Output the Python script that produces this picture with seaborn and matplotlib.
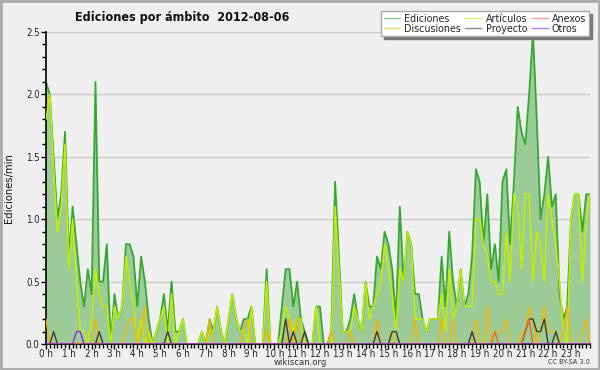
import numpy as np
import pandas as pd
import matplotlib
matplotlib.use("Agg")
import matplotlib.pyplot as plt
import seaborn as sns
from matplotlib.ticker import MultipleLocator, FixedLocator
from matplotlib.patches import Rectangle
from matplotlib.lines import Line2D

sns.set_theme(style="white")
plt.rcParams['font.family'] = ['DejaVu Sans']
plt.rcParams['font.stretch'] = 'condensed'

# ---- data (10-minute bins, edits per minute) ----
ediciones = [
    2.1, 2.0, 1.5, 1.0, 1.2, 1.7, 0.7, 1.1, 0.8, 0.5, 0.3, 0.6, 0.4, 2.1, 0.5, 0.5, 0.8, 0.0, 0.4, 0.2,
    0.3, 0.8, 0.8, 0.7, 0.3, 0.7, 0.5, 0.2, 0.0, 0.1, 0.2, 0.4, 0.1, 0.5, 0.1, 0.1, 0.2, 0.0, 0.0, 0.0,
    0.0, 0.1, 0.0, 0.2, 0.1, 0.3, 0.1, 0.0, 0.2, 0.4, 0.2, 0.1, 0.2, 0.2, 0.3, 0.0, 0.0, 0.0, 0.6, 0.0,
    0.0, 0.0, 0.3, 0.6, 0.6, 0.3, 0.5, 0.2, 0.1, 0.0, 0.0, 0.3, 0.3, 0.0, 0.0, 0.1, 1.3, 0.7, 0.1, 0.1,
    0.2, 0.4, 0.2, 0.1, 0.5, 0.3, 0.3, 0.7, 0.6, 0.9, 0.8, 0.6, 0.2, 1.1, 0.5, 0.9, 0.8, 0.4, 0.4, 0.2,
    0.1, 0.2, 0.2, 0.2, 0.7, 0.3, 0.9, 0.5, 0.3, 0.6, 0.3, 0.4, 0.7, 1.4, 1.3, 0.8, 1.2, 0.6, 0.8, 0.5,
    1.3, 1.4, 0.8, 1.3, 1.9, 1.7, 1.6, 2.0, 2.5, 1.8, 1.0, 1.2, 1.5, 1.1, 1.2, 0.4, 0.2, 0.3, 1.0, 1.2,
    1.2, 0.9, 1.2, 1.2,
]
articulos = [
    1.8, 2.0, 1.4, 0.9, 1.1, 1.6, 0.6, 1.0, 0.5, 0.1, 0.1, 0.0, 0.2, 0.6, 0.4, 0.3, 0.3, 0.0, 0.3, 0.2,
    0.3, 0.7, 0.5, 0.3, 0.0, 0.2, 0.0, 0.1, 0.0, 0.1, 0.2, 0.3, 0.0, 0.4, 0.0, 0.1, 0.2, 0.0, 0.0, 0.0,
    0.0, 0.1, 0.0, 0.1, 0.1, 0.3, 0.1, 0.0, 0.2, 0.4, 0.2, 0.1, 0.1, 0.0, 0.3, 0.0, 0.0, 0.0, 0.5, 0.0,
    0.0, 0.0, 0.1, 0.3, 0.2, 0.1, 0.2, 0.2, 0.0, 0.0, 0.0, 0.3, 0.0, 0.0, 0.0, 0.0, 1.1, 0.6, 0.1, 0.1,
    0.1, 0.3, 0.2, 0.1, 0.5, 0.2, 0.3, 0.4, 0.5, 0.8, 0.6, 0.4, 0.1, 0.6, 0.5, 0.9, 0.8, 0.2, 0.2, 0.2,
    0.1, 0.2, 0.2, 0.2, 0.4, 0.1, 0.6, 0.2, 0.3, 0.6, 0.3, 0.3, 0.3, 1.0, 1.0, 0.8, 0.7, 0.5, 0.5, 0.4,
    0.4, 0.9, 0.5, 1.2, 1.1, 0.6, 1.2, 1.2, 0.5, 0.9, 0.8, 0.5, 1.2, 1.0, 0.8, 0.5, 0.1, 0.0, 1.0, 1.2,
    1.2, 0.5, 1.0, 1.2,
]
discusiones = [
    0.2, 0.0, 0.0, 0.0, 0.0, 0.0, 0.0, 0.0, 0.0, 0.0, 0.0, 0.0, 0.0, 0.2, 0.0, 0.0, 0.0, 0.0, 0.0, 0.0,
    0.0, 0.1, 0.2, 0.2, 0.0, 0.1, 0.3, 0.0, 0.0, 0.0, 0.0, 0.0, 0.0, 0.0, 0.0, 0.0, 0.0, 0.0, 0.0, 0.0,
    0.0, 0.0, 0.0, 0.2, 0.0, 0.0, 0.0, 0.0, 0.0, 0.0, 0.0, 0.0, 0.1, 0.2, 0.0, 0.0, 0.0, 0.0, 0.1, 0.0,
    0.0, 0.0, 0.0, 0.0, 0.2, 0.0, 0.2, 0.0, 0.0, 0.0, 0.0, 0.0, 0.0, 0.0, 0.0, 0.1, 0.0, 0.0, 0.0, 0.0,
    0.1, 0.0, 0.0, 0.0, 0.0, 0.0, 0.0, 0.2, 0.0, 0.0, 0.0, 0.1, 0.0, 0.0, 0.0, 0.0, 0.0, 0.2, 0.0, 0.0,
    0.0, 0.0, 0.0, 0.0, 0.2, 0.0, 0.0, 0.2, 0.0, 0.0, 0.0, 0.0, 0.0, 0.2, 0.0, 0.0, 0.3, 0.0, 0.1, 0.1,
    0.1, 0.2, 0.0, 0.0, 0.0, 0.1, 0.1, 0.3, 0.2, 0.0, 0.1, 0.3, 0.1, 0.1, 0.1, 0.0, 0.1, 0.3, 0.0, 0.0,
    0.0, 0.1, 0.2, 0.0,
]
proyecto = [0.0] * 144
for _i, _v in {2: 0.1, 14: 0.1, 32: 0.1, 63: 0.2, 65: 0.1, 68: 0.1, 87: 0.1, 91: 0.1, 92: 0.1,
               112: 0.1, 126: 0.1, 127: 0.2, 128: 0.2, 129: 0.1, 130: 0.1, 131: 0.2, 134: 0.1}.items():
    proyecto[_i] = _v
anexos = [0.0] * 144
for _i, _v in {118: 0.1, 126: 0.1, 127: 0.2}.items():
    anexos[_i] = _v
otros = [0.0] * 144
for _i, _v in {8: 0.1, 9: 0.1}.items():
    otros[_i] = _v

hour_labels = [f"{h} h" for h in range(24)]
series_names = ["Ediciones", "Artículos", "Discusiones", "Proyecto", "Anexos", "Otros"]
series_colors = {"Ediciones": "#36a832", "Artículos": "#c2ee00", "Discusiones": "#f2b800",
                 "Proyecto": "#3a3a3a", "Anexos": "#f26522", "Otros": "#8a2be2"}

hora = np.arange(len(ediciones)) / 6.0
df = pd.DataFrame({"hora": hora, "Ediciones": ediciones, "Artículos": articulos,
                   "Discusiones": discusiones, "Proyecto": proyecto, "Anexos": anexos, "Otros": otros})
long = df.melt(id_vars="hora", var_name="serie", value_name="valor")

bg = "#efeff0"
fig = plt.figure(figsize=(6, 3.7), dpi=100, facecolor=bg)
ax = fig.add_axes([46 / 600, 1 - 344 / 370, 544 / 600, 312 / 370])
ax.set_facecolor(bg)

for y in [0.5, 1.0, 1.5, 2.0, 2.5]:
    ax.axhline(y, color="#c9c9c9", lw=1, zorder=0)

ax.fill_between(df["hora"], df["Ediciones"], 0, color="#9ccb98", zorder=1, lw=0)

widths = {"Ediciones": 1.3, "Artículos": 1.1, "Discusiones": 1.0, "Proyecto": 1.0, "Anexos": 1.0, "Otros": 1.0}
for k, name in enumerate(series_names):
    sub = long[long["serie"] == name]
    sns.lineplot(data=sub, x="hora", y="valor", ax=ax, color=series_colors[name],
                 lw=widths[name], zorder=2 + k, legend=False)

ax.set_xlim(0, hora[-1])
ax.set_ylim(0, 2.5)
ax.xaxis.set_major_locator(FixedLocator(list(range(24))))
ax.set_xticklabels(hour_labels)
ax.xaxis.set_minor_locator(MultipleLocator(1 / 6))
ax.yaxis.set_major_locator(MultipleLocator(0.5))
ax.yaxis.set_minor_locator(MultipleLocator(0.1))
ax.yaxis.set_major_formatter(matplotlib.ticker.FormatStrFormatter("%.1f"))
ax.tick_params(axis="both", which="major", direction="out", length=3.5, width=1, color="black",
               labelsize=7, bottom=True, left=True, labelcolor="#222222")
ax.tick_params(axis="x", which="major", pad=0)
ax.tick_params(axis="y", which="major", pad=1)
ax.tick_params(axis="both", which="minor", direction="out", length=3, width=1, color="black",
               bottom=True, left=True)
for s in ["top", "right"]:
    ax.spines[s].set_visible(False)
for s in ["left", "bottom"]:
    ax.spines[s].set_color("black")
    ax.spines[s].set_linewidth(1.2)
ax.set_xlabel("")
ax.set_ylabel("Ediciones/min", fontsize=8, color="#111111")
ax.yaxis.set_label_coords(-0.058, 0.5)

fig.text(75 / 600, 1 - 18 / 370, "Ediciones por ámbito  2012-08-06", fontsize=9,
         fontweight="bold", va="center", ha="left", color="#111111")
fig.text(300 / 600, 1 - 362.5 / 370, "wikiscan.org", fontsize=6.8, ha="center", va="center", color="#333333")
fig.text(590 / 600, 1 - 362.5 / 370, "CC BY-SA 3.0", fontsize=5.2, ha="right", va="center", color="#333333")

order = ["Ediciones", "Discusiones", "Artículos", "Proyecto", "Anexos", "Otros"]
handles = [Line2D([], [], color=series_colors[n], lw=1.0, alpha=0.6) for n in order]
leg = fig.legend(handles, order, loc="upper right", bbox_to_anchor=(589 / 600, 1 - 11 / 370),
                 ncol=3, fontsize=7.7, frameon=True, fancybox=False, shadow={"color": "#777777", "alpha": 1},
                 handlelength=1.5, handletextpad=0.4, columnspacing=0.4, labelspacing=0.0,
                 borderpad=0.25, borderaxespad=0)
leg.get_frame().set_edgecolor("#aaaaaa")
leg.get_frame().set_linewidth(1)

fig.patches.append(Rectangle((0.0015, 0.0025), 0.997, 0.995, transform=fig.transFigure,
                             fill=False, edgecolor="#aaaaaa", lw=2))

fig.savefig("out.png", dpi=100, facecolor=bg)
